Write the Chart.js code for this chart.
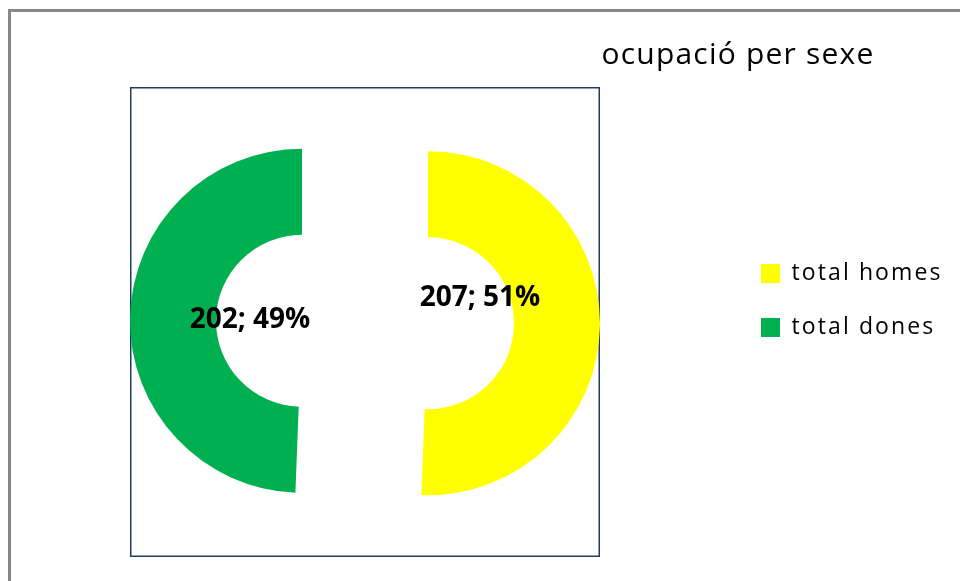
<!DOCTYPE html>
<html>
<head>
<meta charset="utf-8">
<script src="https://cdn.jsdelivr.net/npm/chart.js@4/dist/chart.umd.min.js"></script>
<style>
  html, body { margin: 0; padding: 0; background: #ffffff; overflow: hidden; }
  #frame { position: absolute; left: 8px; top: 9px; width: 1000px; height: 700px;
           border-left: 3px solid #878787; border-top: 3px solid #878787; }
  #wrap { position: absolute; left: 0; top: 0; width: 960px; height: 581px; }
</style>
</head>
<body>
<div id="frame"></div>
<div id="wrap"><canvas id="c" width="960" height="581"></canvas></div>
<script>
// ---- data ----
const categories = ['total homes', 'total dones'];
const values = [207, 202];
const percents = [51, 49];
const sliceColors = ['#FFFF00', '#00B050'];
const chartTitle = 'ocupació per sexe';

// ---- plugins ----
function withSpacing(box, spacing) {
  if (!box || box._spaced) return;
  const orig = Object.getPrototypeOf(box).draw;
  box.draw = function (area) {
    const ctx = this.ctx;
    const prev = ctx.letterSpacing;
    ctx.letterSpacing = spacing;
    orig.call(this, area);
    ctx.letterSpacing = prev || '0px';
  };
  box._spaced = true;
}

const placePlugin = {
  id: 'place',
  afterLayout(chart) {
    const a = chart.chartArea;
    const t = chart.titleBlock;
    if (t) { t.left = a.right; t.right = chart.width - 84; t.width = t.right - t.left; withSpacing(t, '1.2px'); }
    const lg = chart.legend;
    if (lg) {
      const pad = lg.options.labels.padding;
      const h = lg.height;
      lg.left = a.right + 161 - pad;
      lg.width = chart.width - lg.left;
      lg.right = chart.width;
      lg.top = a.top + 175 - pad; lg.bottom = lg.top + h;
      withSpacing(lg, '2.1px');
    }
  }
};

// pulls each slice away from the centre (exploded doughnut) without trimming its edges
const explodePlugin = {
  id: 'explode',
  beforeDatasetsDraw(chart, args, opts) {
    chart.getDatasetMeta(0).data.forEach((arc) => {
      if (arc._exploded) return;
      const orig = Object.getPrototypeOf(arc).draw;
      arc.draw = function (ctx) {
        const half = (this.startAngle + this.endAngle) / 2;
        ctx.save();
        ctx.translate(Math.cos(half) * opts.distance, Math.sin(half) * opts.distance);
        orig.call(this, ctx);
        ctx.restore();
      };
      arc._exploded = true;
    });
  }
};

const framePlugin = {
  id: 'plotFrame',
  beforeDraw(chart) {
    const a = chart.chartArea, ctx = chart.ctx;
    ctx.save();
    ctx.strokeStyle = '#1F3B66';
    ctx.lineWidth = 1.5;
    ctx.strokeRect(a.left + 0.75, a.top + 0.75, a.right - a.left - 1.5, a.bottom - a.top - 1.5);
    ctx.restore();
  }
};

const labelPlugin = {
  id: 'sliceLabels',
  afterDatasetsDraw(chart, args, opts) {
    const ctx = chart.ctx;
    const meta = chart.getDatasetMeta(0);
    const ex = chart.options.plugins.explode.distance;
    ctx.save();
    ctx.font = opts.font;
    ctx.fillStyle = opts.color;
    ctx.textAlign = 'center';
    ctx.textBaseline = 'middle';
    meta.data.forEach((arc, i) => {
      const p = arc.getProps(['x', 'y', 'startAngle', 'endAngle'], true);
      const half = (p.startAngle + p.endAngle) / 2;
      const r = ex + opts.distance;
      const n = opts.nudge[i] || {x: 0, y: 0};
      const lx = p.x + Math.cos(half) * r + n.x;
      const ly = p.y + Math.sin(half) * r + n.y;
      ctx.fillText(values[i] + '; ' + percents[i] + '%', lx, ly);
    });
    ctx.restore();
  }
};

new Chart(document.getElementById('c'), {
  type: 'doughnut',
  data: {
    labels: categories,
    datasets: [{
      data: values,
      backgroundColor: sliceColors,
      hoverBackgroundColor: sliceColors,
      borderWidth: 0,
      hoverOffset: 0,
      radius: 172
    }]
  },
  options: {
    responsive: false,
    animation: false,
    devicePixelRatio: 1,
    cutout: '50%',
    layout: { padding: { left: 130, right: 360, top: 37, bottom: 24 } },
    events: [],
    plugins: {
      tooltip: { enabled: false },
      explode: { distance: 63 },
      title: {
        display: true,
        text: chartTitle,
        align: 'center',
        color: '#000000',
        font: { family: 'Open Sans', size: 30, weight: 'normal', lineHeight: 1.2 },
        padding: { top: 0, bottom: 14 }
      },
      legend: {
        display: true,
        position: 'chartArea',
        align: 'start',
        labels: {
          color: '#000000',
          boxWidth: 19,
          boxHeight: 19,
          padding: 31,
          font: { family: 'Open Sans', size: 23 }
        }
      },
      sliceLabels: {
        font: 'bold 28px "Open Sans"',
        color: '#000000',
        distance: 52,
        nudge: [{x: 0, y: -26}, {x: 0, y: 0}]
      }
    }
  },
  plugins: [placePlugin, explodePlugin, framePlugin, labelPlugin]
});
</script>
</body>
</html>
